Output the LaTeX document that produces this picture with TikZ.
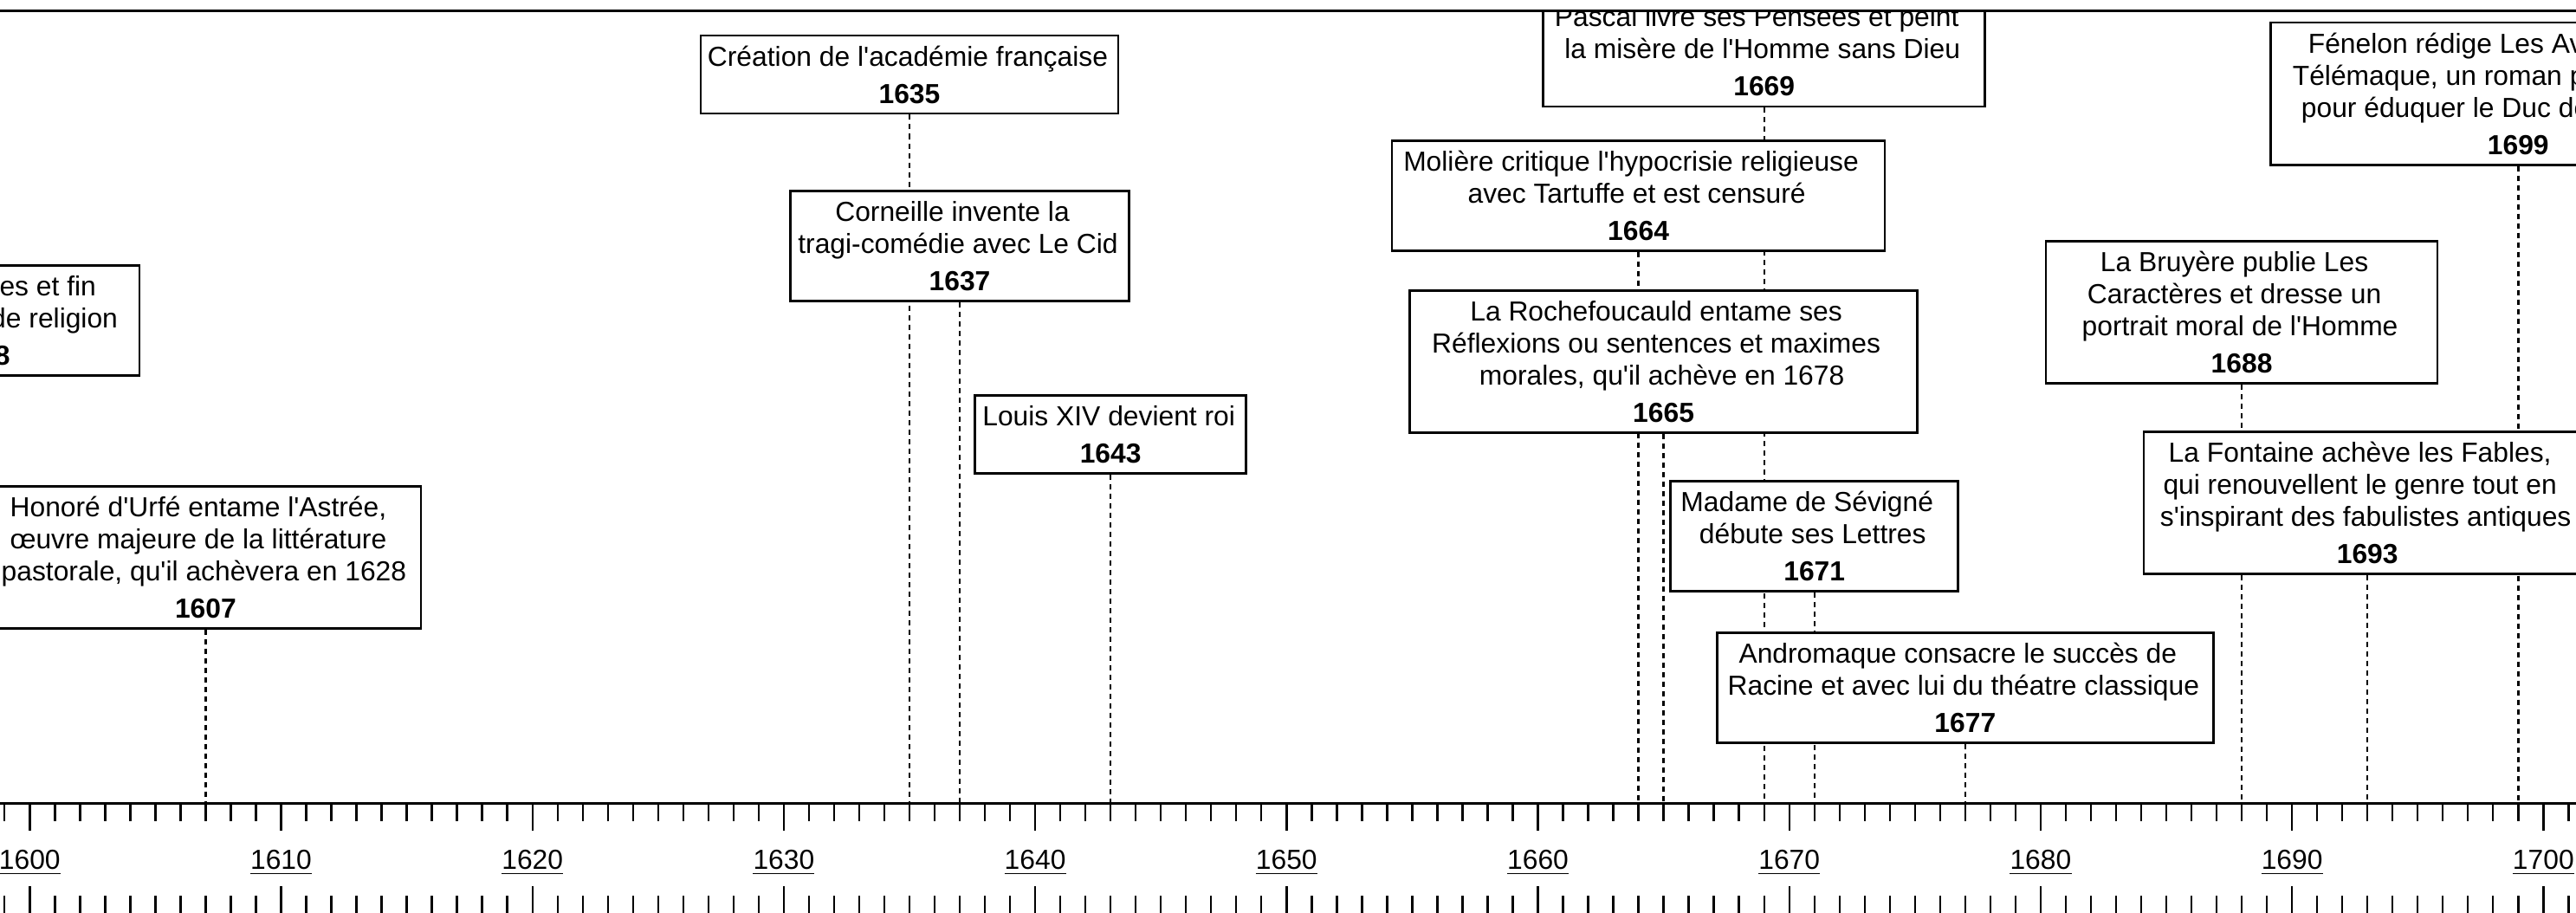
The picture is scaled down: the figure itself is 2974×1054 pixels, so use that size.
\documentclass[tikz,border=0pt]{standalone}
\usepackage{fontspec}
\setmainfont{Liberation Sans}
\pgfdeclarelayer{back}
\pgfdeclarelayer{bg}
\pgfsetlayers{back,bg,main}
\newcommand\sq{\textquotesingle}
\newcommand\trs{\kern17pt}
\newcommand\tlbox[3]{\parbox[c]{#1pt}{\centering\fontsize{31.8pt}{37pt}\selectfont\rule{0pt}{35pt}#2\kern4pt\\[6pt]\textbf{#3}\rule[-12pt]{0pt}{12pt}}}
\begin{document}
\begin{tikzpicture}[x=1pt,y=-1pt,
  box/.style={draw, line width=2.5pt, fill=white, inner sep=0pt, anchor=north},
  conn/.style={line width=2.4pt, dash pattern=on 6pt off 5pt},
  tickl/.style={line width=2.4pt},
  lab/.style={anchor=base, inner sep=0pt, font=\fontsize{31.8pt}{37pt}\selectfont},
  uline/.style={line width=1.8pt}]
\useasboundingbox (0,0) rectangle (2974,1054);
\begin{pgfonlayer}{back}
\fill[white] (0,0) rectangle (2974,1054);
\end{pgfonlayer}
\begin{scope}
\clip (0,12.3) rectangle (2974,1054);
% axis
\draw[line width=3pt] (0,927) -- (2974,927);
\foreach \i in {-1,...,101} {
  \pgfmathsetmacro\xx{34.3+\i*29.02}
  \draw[tickl] (\xx,927) -- (\xx,948);
  \draw[tickl] (\xx,1034) -- (\xx,1060);
}
\foreach \d in {0,...,10} {
  \pgfmathsetmacro\xx{34.3+\d*290.2}
  \pgfmathtruncatemacro\yy{1600+10*\d}
  \draw[tickl] (\xx,927) -- (\xx,959);
  \draw[tickl] (\xx,1023) -- (\xx,1060);
  \node[lab] (l\yy) at (\xx,1003) {\yy};
  \draw[uline] ([yshift=-5pt]l\yy.south west) -- ([yshift=-5pt]l\yy.south east);
}
% event boxes
\node[box] (b1598) at (-23.74,305) {\tlbox{369}{Édit de Nantes et fin\trs\\des guerres de religion}{1598}};
\node[box] (b1607) at (237.44,560) {\tlbox{497}{Honoré d\sq{}Urfé entame l\sq{}Astrée,\trs\\œuvre majeure de la littérature\trs\\pastorale, qu\sq{}il achèvera en 1628}{1607}};
\node[box] (b1635) at (1050,40) {\tlbox{482}{Création de l\sq{}académie française}{1635}};
\node[box] (b1637) at (1108.04,219) {\tlbox{391}{Corneille invente la\trs\\tragi-comédie avec Le Cid}{1637}};
\node[box] (b1643) at (1282.16,455) {\tlbox{313}{Louis XIV devient roi}{1643}};
\node[box] (b1664) at (1891.58,161) {\tlbox{569}{Molière critique l\sq{}hypocrisie religieuse\trs\\avec Tartuffe et est censuré}{1664}};
\node[box] (b1665) at (1920.6,334) {\tlbox{586}{La Rochefoucauld entame ses\trs\\Réflexions ou sentences et maximes\trs\\morales, qu\sq{}il achève en 1678}{1665}};
\node[box] (b1669) at (2036.68,-5.3) {\tlbox{510}{Pascal livre ses Pensées et peint\trs\\la misère de l\sq{}Homme sans Dieu}{1669}};
\node[box] (b1671) at (2094.72,554) {\tlbox{332}{Madame de Sévigné\trs\\débute ses Lettres}{1671}};
\node[box] (b1677) at (2268.84,729) {\tlbox{573}{Andromaque consacre le succès de\trs\\Racine et avec lui du théatre classique}{1677}};
\node[box] (b1688) at (2588.06,277) {\tlbox{452}{La Bruyère publie Les\trs\\Caractères et dresse un\trs\\portrait moral de l\sq{}Homme}{1688}};
\node[box] (b1693) at (2733.16,497) {\tlbox{516}{La Fontaine achève les Fables,\trs\\qui renouvellent le genre tout en\trs\\s\sq{}inspirant des fabulistes antiques}{1693}};
\node[box] (b1699) at (2907.28,25) {\tlbox{572}{Fénelon rédige Les Aventures de\trs\\Télémaque, un roman pédagogique\trs\\pour éduquer le Duc de Bourgogne}{1699}};
% connectors
\begin{pgfonlayer}{bg}
\foreach \yr/\xx in {1598/-23.74, 1607/237.44, 1635/1050, 1637/1108.04, 1643/1282.16, 1664/1891.58, 1665/1920.6, 1669/2036.68, 1671/2094.72, 1677/2268.84, 1688/2588.06, 1693/2733.16, 1699/2907.28} {
  \coordinate (a\yr) at (\xx,927);
  \draw[conn] (b\yr.south) -- (a\yr);
}
\end{pgfonlayer}
\end{scope}
\draw[line width=2.5pt] (0,12.3) -- (2974,12.3);
\end{tikzpicture}
\end{document}
